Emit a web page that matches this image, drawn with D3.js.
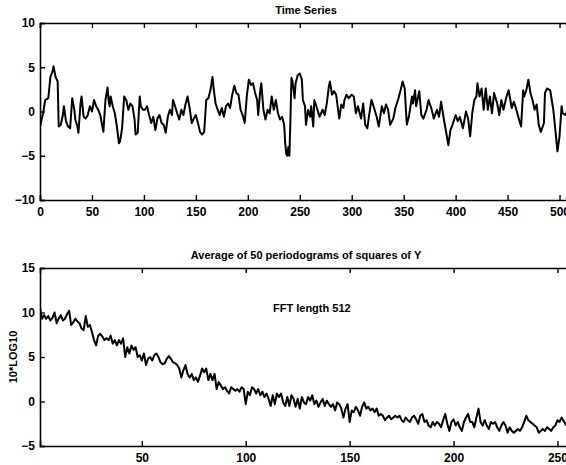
<!DOCTYPE html>
<html>
<head>
<meta charset="utf-8">
<script src="https://cdn.jsdelivr.net/npm/d3@7"></script>
<style>
  html, body { margin: 0; padding: 0; background: #fff; }
  svg { display: block; }
  text { font-family: "Liberation Sans", Arial, Helvetica, sans-serif; font-weight: bold; fill: #000; }
</style>
</head>
<body>
<svg id="chart" width="566" height="465"></svg>
<script>
// ---------- Data ----------
const topTitle = "Time Series";
const bottomTitle = "Average of 50 periodograms of squares of Y";
const bottomYLabel = "10*LOG10";
const annotation = "FFT length 512";

const topXTicks = [0, 50, 100, 150, 200, 250, 300, 350, 400, 450, 500];
const topYTicks = [-10, -5, 0, 5, 10];
const bottomXTicks = [50, 100, 150, 200, 250];
const bottomYTicks = [-5, 0, 5, 10, 15];

// time series: sample index and value
const tsIndex = [0,3,5,8,10,12,13,15,17,18,20,22,23,25,27,29,31,33,34,36,37,39,40,42,44,46,48,50,52,54,56,58,60,61,63,65,66,67,68,70,72,74,76,77,79,81,83,85,87,89,91,92,94,96,97,99,101,103,105,107,109,111,113,115,117,119,121,123,125,127,128,130,132,134,136,138,140,142,144,146,148,150,152,154,156,158,160,162,164,166,167,169,171,173,175,177,179,181,183,185,187,189,191,193,195,197,199,201,203,205,207,209,210,212,213,215,217,219,221,223,225,227,229,231,233,235,236,237,238,239,240,241,242,243,245,246,248,250,252,253,255,256,258,260,261,263,264,267,269,272,274,276,278,279,281,283,285,288,290,292,293,295,297,300,302,304,306,309,311,313,315,317,319,321,324,326,329,331,333,335,337,340,342,345,347,349,351,353,355,358,359,361,362,365,367,369,372,374,377,379,382,384,386,389,391,393,395,397,400,402,404,407,410,412,414,416,418,420,421,423,425,427,429,431,433,435,437,440,442,444,446,449,451,454,456,458,461,463,465,466,468,470,472,474,476,478,480,482,485,486,488,491,494,496,498,500,502,503,506,508,511];
const tsValue = [-1.7,-0.2,1.3,1.5,3.9,4.5,5.1,3.9,3.4,-1.7,-1.5,-0.4,0.6,-1.1,-1.7,-1.9,1.5,0.2,-0.9,-1.7,-2.4,0.9,1.7,-0.6,-0.8,-0.4,0.6,0,1.3,0.6,0.2,-0.4,-1.7,-2.3,1.3,2.7,1.3,0.6,1.7,0.6,-0.2,-1.7,-3.6,-3.4,-1.9,1.7,1.3,0.2,0.9,0.6,-0.9,-2.6,-2.4,1.7,0.6,0.2,0.2,0.6,-0.4,-1.3,-0.6,-2.1,-0.8,-0.4,-1.3,-1.5,-2.4,-0.6,0.2,-0.4,1.3,0.6,-0.2,-0.9,0.2,-0.4,0.8,1.7,0.4,-1.3,-0.8,-0.4,-1.3,-2.3,-2.6,-2.3,1.3,1.5,2.4,3.9,2.7,0.9,0.2,-0.4,0.4,-0.6,0.6,0.9,0.4,1.9,2.9,2.1,1.9,0.2,-0.4,-1.3,1.7,3.6,3.0,3.2,2.1,1.3,-0.4,2.4,3.2,0.2,-0.9,0.2,-0.2,1.7,0.2,1.3,-0.2,-0.9,-0.6,-1.5,-3.6,-4.8,-5.0,-4.0,-5.0,-1.0,3.8,3.4,1.5,3.2,4.1,4.3,3.6,1.3,0.6,-1.5,0.2,-0.6,0.6,-1.7,1.3,0.2,-0.6,0.2,-0.4,0.9,2.8,3.4,1.9,2.3,1.9,-0.8,0.8,0.4,1.3,1.9,1.5,1.9,1.7,-0.2,0.6,-0.8,0.9,-1.5,-1.9,-0.2,1.3,0.6,-0.6,-1.7,0.6,-0.2,0.8,0.2,-1.5,-0.8,0.4,1.5,2.4,3.4,2.6,-1.5,-0.6,1.7,0.9,2.4,0.6,2.3,-0.4,-0.8,0.2,1.3,0.2,-0.8,0.2,-0.6,1.1,-1.1,-2.4,-3.8,-2.1,-1.5,-0.4,-1.1,-0.6,-1.9,0,-0.8,-2.8,-0.2,1.3,1.7,3.2,1.7,2.6,0.2,2.6,0.2,1.7,-0.2,2.1,0.9,-0.4,1.3,0.2,1.7,2.4,0.4,1.1,0.4,-0.9,-1.7,2.4,1.7,2.4,3.6,2.1,1.3,0.2,0.8,-1.5,-2.3,-1.3,2.1,2.6,2.4,0.2,-2.1,-4.5,-2.8,0.6,-0.2,-0.4,0.3,-0.5];

// periodogram: frequency bin 1..257 and 10*log10 value
const pgValue = [10.5,9.3,9.7,9.3,9.6,9.1,9.4,10.0,8.8,9.3,9.7,9.1,9.3,9.8,10.2,8.6,8.9,9.3,9.0,8.8,8.2,8.0,9.6,8.4,8.6,7.8,6.9,6.3,7.4,7.6,7.3,6.9,7.1,6.9,7.4,6.5,6.9,6.3,6.9,6.5,7.1,5.0,6.1,5.4,6.3,5.8,6.1,5.0,5.2,4.6,5.4,4.1,4.8,5.0,4.6,5.2,5.4,5.0,4.4,4.2,4.3,4.8,5.1,4.8,4.4,4.3,4.1,3.7,2.7,3.5,4.1,3.1,2.7,3.1,2.4,2.7,2.2,2.9,3.7,3.3,3.7,2.4,3.1,2.4,3.1,1.4,2.2,1.8,1.4,1.6,1.2,0.9,1.6,1.4,1.2,1.4,1.1,1.6,1.4,-0.3,1.1,0.7,1.6,1.4,0.9,1.4,0.7,1.1,0.5,0.9,0.3,-0.5,0.7,-0.3,0.9,0.5,0.9,-0.1,-0.5,0.5,-0.5,0.7,0.3,-0.6,0.3,-0.8,0.5,-0.1,-0.3,0.5,0.1,0.7,-0.3,0.1,-0.6,-0.1,0.3,-0.5,0.1,-0.3,-0.6,-0.3,-1.0,-0.1,-0.3,-0.8,-1.8,-0.8,-0.3,-2.3,-1.0,-1.2,-0.6,-1.0,-1.6,-0.6,-0.1,-0.8,-0.6,-1.0,-0.8,-1.2,-0.8,-1.6,-1.4,-1.6,-2.1,-1.8,-1.6,-2.0,-1.8,-1.6,-1.8,-1.6,-2.1,-2.3,-1.8,-2.1,-2.3,-1.8,-1.6,-2.0,-2.5,-1.6,-1.4,-2.3,-2.1,-2.7,-2.9,-2.3,-2.7,-2.3,-2.5,-2.9,-2.1,-1.4,-2.5,-3.3,-2.3,-2.0,-2.7,-2.3,-2.9,-3.3,-2.3,-1.8,-1.4,-2.3,-2.3,-2.9,-1.8,-0.8,-2.3,-2.7,-2.1,-2.7,-3.1,-2.3,-2.5,-2.3,-2.9,-3.3,-2.7,-2.3,-2.7,-3.5,-2.9,-3.3,-3.5,-3.3,-3.1,-3.3,-2.9,-2.3,-1.6,-2.1,-2.3,-2.5,-2.7,-2.9,-3.5,-3.3,-3.1,-3.3,-2.9,-3.1,-3.3,-2.9,-2.7,-2.1,-2.3,-1.8,-2.2,-2.6,-2.4,-2.8,-2.5];

// ---------- Drawing ----------
const svg = d3.select("#chart");
svg.append("rect").attr("width", 566).attr("height", 465).attr("fill", "#fff");

const fmt = d => d < 0 ? "\u2212" + Math.abs(d) : String(d);

function panel(cfg) {
  const { xDomain, yDomain, x0, x1, y0, y1 } = cfg;
  const x = d3.scaleLinear().domain(xDomain).range([x0, x1]);
  const y = d3.scaleLinear().domain(yDomain).range([y1, y0]);
  const g = svg.append("g");
  const clipId = cfg.id + "-clip";
  svg.append("clipPath").attr("id", clipId)
    .append("rect").attr("x", x0).attr("y", y0).attr("width", x1 - x0).attr("height", y1 - y0);

  // data line
  g.append("path")
    .datum(cfg.data)
    .attr("clip-path", `url(#${clipId})`)
    .attr("fill", "none")
    .attr("stroke", "#000")
    .attr("stroke-width", 2)
    .attr("stroke-linejoin", "round")
    .attr("d", d3.line().x(d => x(d[0])).y(d => y(d[1])));

  const tl = 5;
  // axes: inward ticks on all four sides
  const axB = g.append("g").attr("transform", `translate(0,${y1})`)
    .call(d3.axisBottom(x).tickValues(cfg.xTicks).tickSize(-tl).tickPadding(7).tickFormat(fmt));
  const axT = g.append("g").attr("transform", `translate(0,${y0})`)
    .call(d3.axisTop(x).tickValues(cfg.xTicks).tickSize(-tl).tickFormat(""));
  const axL = g.append("g").attr("transform", `translate(${x0},0)`)
    .call(d3.axisLeft(y).tickValues(cfg.yTicks).tickSize(-tl).tickPadding(5).tickFormat(fmt));
  const axR = g.append("g").attr("transform", `translate(${x1},0)`)
    .call(d3.axisRight(y).tickValues(cfg.yTicks).tickSize(-tl).tickFormat(""));
  [axB, axT, axL, axR].forEach(a => {
    a.select(".domain").attr("stroke", "#000").attr("stroke-width", 1.6);
    a.selectAll(".tick line").attr("stroke", "#000").attr("stroke-width", 1.4);
    a.selectAll("text").style("font-family", "'Liberation Sans', Arial, sans-serif")
      .style("font-weight", "bold").style("font-size", "12px").attr("fill", "#000");
  });

  svg.append("text")
    .attr("x", (x0 + x1) / 2).attr("y", y0 - 9)
    .attr("text-anchor", "middle").style("font-size", "11px")
    .text(cfg.title);
  return { x, y, g };
}

panel({
  id: "top",
  xDomain: [0, 512], yDomain: [-10, 10],
  x0: 40, x1: 572, y0: 23, y1: 200,
  xTicks: topXTicks, yTicks: topYTicks,
  data: tsIndex.map((t, i) => [t, tsValue[i]]),
  title: topTitle
});

const bot = panel({
  id: "bot",
  xDomain: [1, 257], yDomain: [-5, 15],
  x0: 40, x1: 572, y0: 268, y1: 446,
  xTicks: bottomXTicks, yTicks: bottomYTicks,
  data: pgValue.map((v, i) => [i + 1, v]),
  title: bottomTitle
});

svg.append("text")
  .attr("transform", `translate(17,${bot.y(5)}) rotate(-90)`)
  .attr("text-anchor", "middle").style("font-size", "11px")
  .text(bottomYLabel);

svg.append("text")
  .attr("x", 273).attr("y", 312)
  .style("font-size", "11px")
  .text(annotation);
</script>
</body>
</html>
